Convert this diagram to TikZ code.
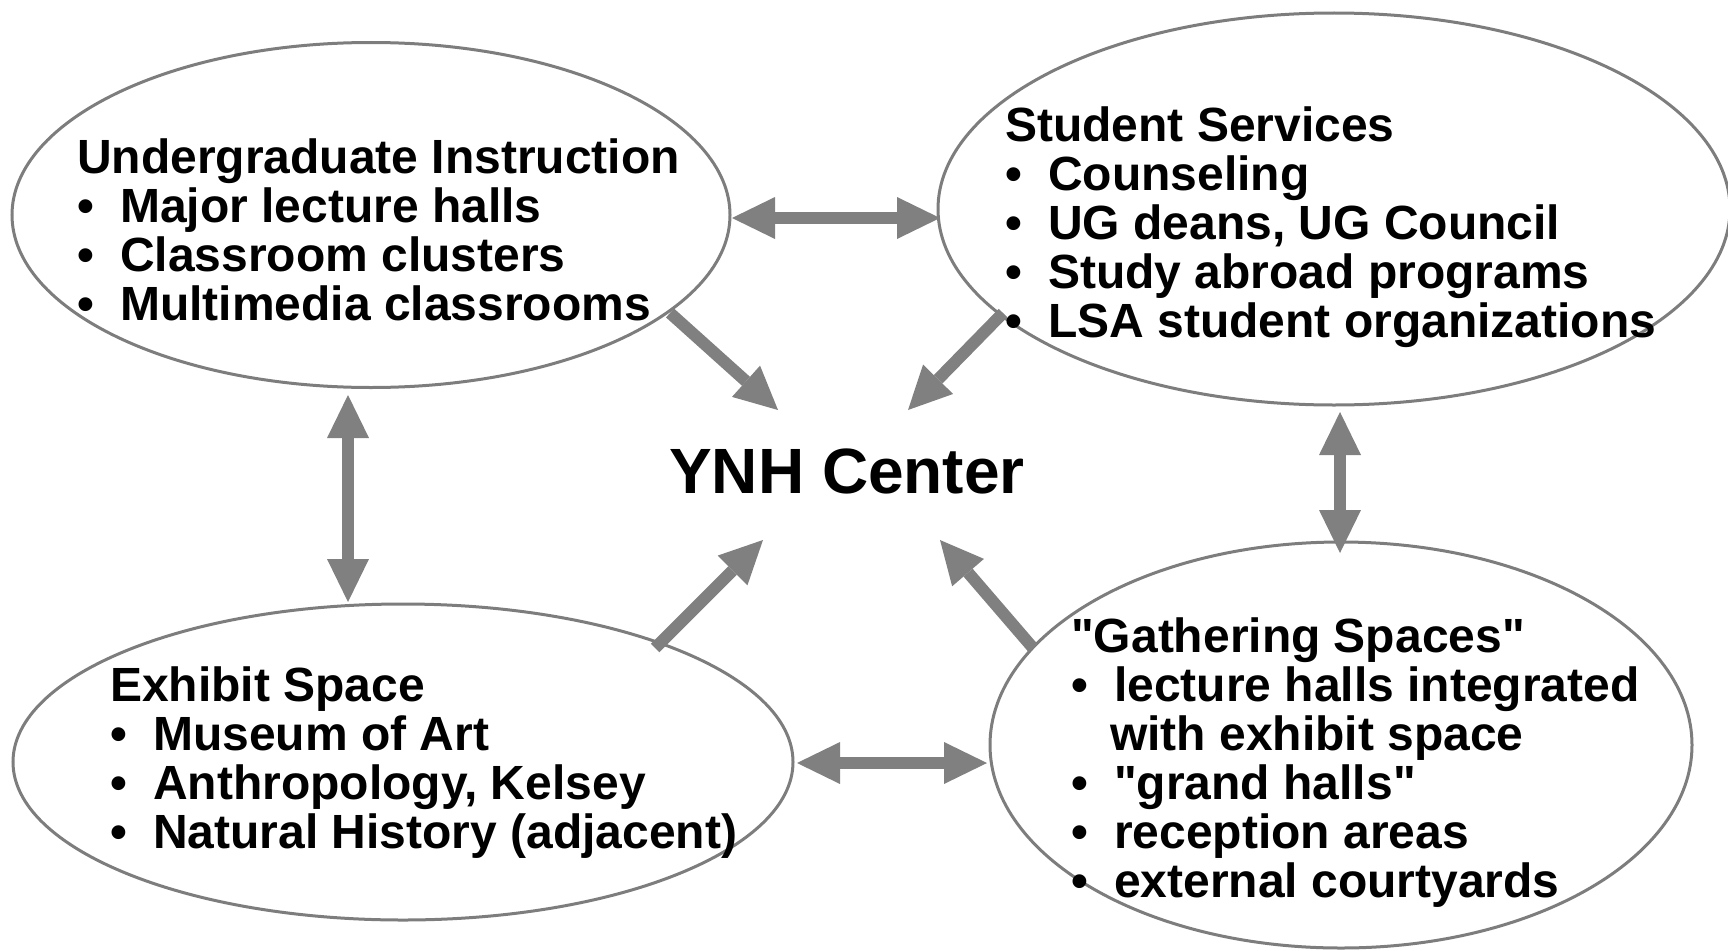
\documentclass[tikz,border=0pt]{standalone}
\usepackage{fontspec}
\setmainfont{Liberation Sans}
\usetikzlibrary{shapes.geometric,arrows.meta}
\definecolor{arrowgray}{RGB}{128,128,128}
\definecolor{rimgray}{RGB}{125,125,125}
\tikzset{
  region/.style={ellipse, draw=rimgray, line width=3pt, inner sep=0pt},
  txt/.style={anchor=base west, inner sep=0pt, font=\fontsize{48}{49}\selectfont\bfseries},
  bigtxt/.style={anchor=base, inner sep=0pt, font=\fontsize{64}{70}\selectfont\bfseries},
  dblarrow/.style={draw=arrowgray, line width=12pt,
    {Triangle[width=42pt,length=43pt,line width=0pt]}-{Triangle[width=42pt,length=43pt,line width=0pt]}},
  onearrow/.style={draw=arrowgray, line width=12pt,
    -{Triangle[width=42pt,length=43pt,line width=0pt]}}
}
\newcommand{\bul}{\makebox[43pt][l]{•}}
\newcommand{\qq}{\textquotedbl}
\begin{document}
\begin{tikzpicture}[x=1pt,y=-1pt]
\useasboundingbox (0,0) rectangle (1728,950);
% regions
\node[region, minimum width=718pt, minimum height=345pt] (ug) at (371,215) {};
\node[region, minimum width=792pt, minimum height=392pt] (ss) at (1334,209) {};
\node[region, minimum width=780pt, minimum height=316pt] (ex) at (403,762) {};
\node[region, minimum width=702pt, minimum height=406pt] (ga) at (1341,745) {};
% arrow end points
\coordinate (ugR) at (732,218);
\coordinate (ssL) at (940,218);
\coordinate (ugB) at (348,395);
\coordinate (exT) at (348,602);
\coordinate (ssB) at (1340,412);
\coordinate (gaT) at (1340,553);
\coordinate (exR) at (797,763);
\coordinate (gaL) at (987,763);
\coordinate (ugD) at (670,313);
\coordinate (ugC) at (778,410);
\coordinate (ssD) at (1003,313);
\coordinate (ssC) at (908,410);
\coordinate (exD) at (655,648);
\coordinate (exC) at (763,540);
\coordinate (gaD) at (1033,648);
\coordinate (gaC) at (940,540);
% connectors
\draw[dblarrow] (ugR) -- (ssL);
\draw[dblarrow] (ugB) -- (exT);
\draw[dblarrow] (ssB) -- (gaT);
\draw[dblarrow] (exR) -- (gaL);
\draw[onearrow] (ugD) -- (ugC);
\draw[onearrow] (ssD) -- (ssC);
\draw[onearrow] (exD) -- (exC);
\draw[onearrow] (gaD) -- (gaC);
% center
\node[bigtxt] (ynh) at (847,493) {YNH Center};
% undergraduate instruction
\node[txt] (ug0) at (77,173) {Undergraduate Instruction};
\node[txt] (ug1) at (77,222) {\bul Major lecture halls};
\node[txt] (ug2) at (77,271) {\bul Classroom clusters};
\node[txt] (ug3) at (77,320) {\bul Multimedia classrooms};
% student services
\node[txt] (ss0) at (1005,141) {Student Services};
\node[txt] (ss1) at (1005,190) {\bul Counseling};
\node[txt] (ss2) at (1005,239) {\bul UG deans, UG Council};
\node[txt] (ss3) at (1005,288) {\bul Study abroad programs};
\node[txt] (ss4) at (1005,337) {\bul LSA student organizations};
% exhibit space
\node[txt] (ex0) at (110,701) {Exhibit Space};
\node[txt] (ex1) at (110,750) {\bul Museum of Art};
\node[txt] (ex2) at (110,799) {\bul Anthropology, Kelsey};
\node[txt] (ex3) at (110,848) {\bul Natural History (adjacent)};
% gathering spaces
\node[txt] (ga0) at (1071,652) {\qq Gathering Spaces\qq};
\node[txt] (ga1) at (1071,701) {\bul lecture halls integrated};
\node[txt] (ga2) at (1110,750) {with exhibit space};
\node[txt] (ga3) at (1071,799) {\bul \qq grand halls\qq};
\node[txt] (ga4) at (1071,848) {\bul reception areas};
\node[txt] (ga5) at (1071,897) {\bul external courtyards};
\end{tikzpicture}
\end{document}
